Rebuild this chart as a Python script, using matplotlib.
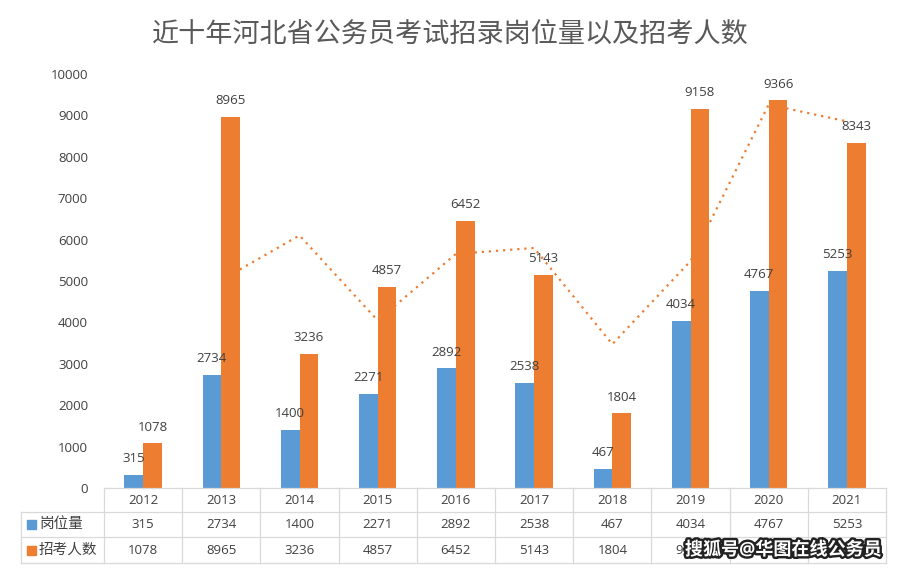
import matplotlib
matplotlib.use("Agg")
import matplotlib.pyplot as plt
import matplotlib.patheffects as pe
import pandas as pd

plt.rcParams['font.family'] = ['Open Sans', 'Noto Sans CJK SC', 'DejaVu Sans']

years = ['2012', '2013', '2014', '2015', '2016', '2017', '2018', '2019', '2020', '2021']
posts = [315, 2734, 1400, 2271, 2892, 2538, 467, 4034, 4767, 5253]
applicants = [1078, 8965, 3236, 4857, 6452, 5143, 1804, 9158, 9366, 8343]
series_names = ['岗位量', '招考人数']
title = '近十年河北省公务员考试招录岗位量以及招考人数'

blue = '#5B9BD5'
orange = '#ED7D31'
txt = '#404040'
grid = '#D9D9D9'

W, H = 897, 568
fig = plt.figure(figsize=(W / 100, H / 100), dpi=100)

# pixel layout of plot area
x0, x1 = 104, 886
y_top, y_bot = 74, 488
ax = fig.add_axes([x0 / W, 1 - y_bot / H, (x1 - x0) / W, (y_bot - y_top) / H])

n = len(years)
xs = list(range(n))
bw = 0.24
ax.bar([x - bw / 2 for x in xs], posts, bw, color=blue, zorder=3)
ax.bar([x + bw / 2 for x in xs], applicants, bw, color=orange, zorder=3)

# 2-period moving average trend of applicants
ma = pd.Series(applicants).rolling(2).mean()
ax.plot(xs[1:], ma[1:], color=orange, linestyle=(0, (1, 2.2)), linewidth=1.6, zorder=2)

for x, v in zip(xs, posts):
    ax.annotate(str(v), (x - bw / 2, v), xytext=(0, 7), textcoords='offset points',
                ha='center', va='bottom', fontsize=9.5, color=txt)
for x, v in zip(xs, applicants):
    ax.annotate(str(v), (x + bw / 2, v), xytext=(0, 7), textcoords='offset points',
                ha='center', va='bottom', fontsize=9.5, color=txt)

ax.set_xlim(-0.5, n - 0.5)
ax.set_ylim(0, 10000)
ax.set_yticks(range(0, 10001, 1000))
ax.tick_params(axis='y', length=0, labelsize=9.5, labelcolor=txt, pad=11.5)
ax.set_xticks([])
for s in ax.spines.values():
    s.set_visible(False)

# overlay in pixel coordinates for title and data table
ov = fig.add_axes([0, 0, 1, 1], zorder=5)
ov.set_xlim(0, W)
ov.set_ylim(H, 0)
ov.axis('off')
ov.patch.set_alpha(0)

ov.text(450, 35, title, ha='center', va='center', fontsize=19.5, color='#595959')

colw = (x1 - x0) / n
rows = [488, 512, 537, 563]
lw = 0.9
ov.plot([x0, x1], [rows[0], rows[0]], color=grid, lw=lw)
for r in rows[1:]:
    ov.plot([21, x1], [r, r], color=grid, lw=lw)
ov.plot([21, 21], [rows[1], rows[3]], color=grid, lw=lw)
for i in range(n + 1):
    xb = x0 + i * colw
    ov.plot([xb, xb], [rows[0], rows[3]], color=grid, lw=lw)

for i in range(n):
    cx = x0 + (i + 0.5) * colw
    ov.text(cx, (rows[0] + rows[1]) / 2, years[i], ha='center', va='center', fontsize=9.5, color=txt)
    ov.text(cx, (rows[1] + rows[2]) / 2, str(posts[i]), ha='center', va='center', fontsize=9.5, color=txt)
    ov.text(cx, (rows[2] + rows[3]) / 2, str(applicants[i]), ha='center', va='center',
            fontsize=9.5, color=txt, zorder=2)

for k, (name, c) in enumerate(zip(series_names, [blue, orange])):
    yc = (rows[k + 1] + rows[k + 2]) / 2
    ov.add_patch(plt.Rectangle((27, yc - 4.5), 9, 9, color=c))
    ov.text(39, yc, name, ha='left', va='center', fontsize=10.5, color=txt)

# site watermark drawn over the last table cells, as in the source image
wm = ov.text(783, 550, '搜狐号@华图在线公务员', ha='center', va='center',
             fontsize=13, color='white', fontweight='bold', zorder=10)
wm.set_path_effects([pe.withStroke(linewidth=3.5, foreground='#222222')])

fig.savefig('out.png', dpi=100)
